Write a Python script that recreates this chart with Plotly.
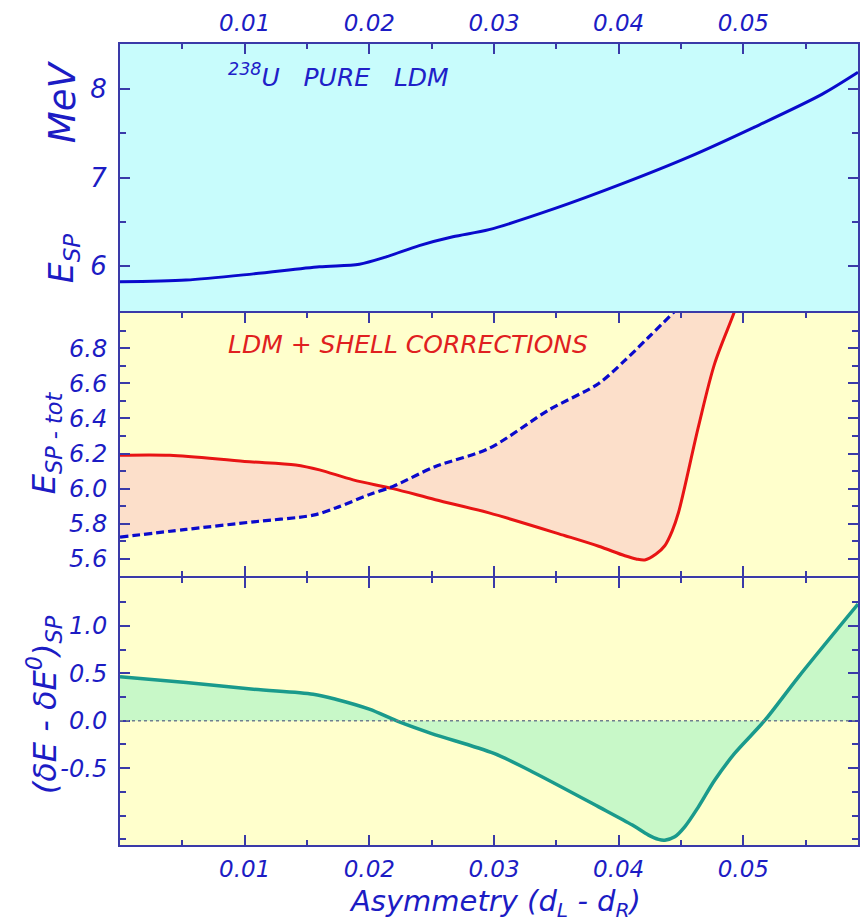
import plotly.graph_objects as go

# ---------------- data ----------------
# Panel 1: pure LDM saddle-point energy (MeV)
x_ldm = [0.0, 0.0053, 0.0107, 0.016, 0.0192, 0.0213, 0.024, 0.0267, 0.0296,
         0.0349, 0.0403, 0.0456, 0.0509, 0.0563, 0.0592]
e_ldm = [5.82, 5.84, 5.91, 5.99, 6.02, 6.10, 6.23, 6.33, 6.41,
         6.65, 6.93, 7.23, 7.57, 7.94, 8.19]

# Panel 2: LDM + shell corrections (red) and LDM reference (blue dashed)
x_tot = [0.0, 0.004, 0.01, 0.0141, 0.016, 0.0187, 0.0219, 0.0253, 0.0296,
         0.0357, 0.0384, 0.0405, 0.0414, 0.0421, 0.0430, 0.0437, 0.0443,
         0.0448, 0.0464, 0.0477, 0.0493, 0.0502]
e_tot = [6.19, 6.19, 6.155, 6.135, 6.107, 6.05, 6.0, 5.937, 5.862,
         5.732, 5.672, 5.618, 5.60, 5.594, 5.628, 5.675, 5.76,
         5.864, 6.353, 6.712, 7.01, 7.2]

x_ref = [0.0, 0.0053, 0.0107, 0.0155, 0.0173, 0.02, 0.0219, 0.0253, 0.0296,
         0.0344, 0.0384, 0.0405, 0.0424, 0.0445, 0.0460]
e_ref = [5.724, 5.768, 5.811, 5.849, 5.89, 5.966, 6.013, 6.126, 6.229,
         6.448, 6.599, 6.73, 6.862, 7.01, 7.12]

# Panel 3: shell-correction difference
x_sh = [0.0, 0.0053, 0.0107, 0.0155, 0.0173, 0.02, 0.0223, 0.025, 0.03,
        0.0331, 0.0384, 0.0411, 0.0424, 0.0432, 0.0437, 0.0445, 0.0453,
        0.0464, 0.0477, 0.0493, 0.0517, 0.0544, 0.0592]
d_sh = [0.463, 0.403, 0.333, 0.28, 0.227, 0.122, -0.007, -0.135, -0.345,
        -0.54, -0.908, -1.10, -1.206, -1.251, -1.259, -1.224, -1.119,
        -0.908, -0.628, -0.345, 0.0, 0.458, 1.23]

# ticks
x_tickvals = [0.01, 0.02, 0.03, 0.04, 0.05]
x_ticktext = ["0.01", "0.02", "0.03", "0.04", "0.05"]
x_minor = [0.005, 0.015, 0.025, 0.035, 0.045, 0.055]
y1_tickvals = [6, 7, 8]
y1_ticktext = ["6", "7", "8"]
y1_minor = [5.5, 6.5, 7.5, 8.5]
y2_tickvals = [5.6, 5.8, 6.0, 6.2, 6.4, 6.6, 6.8]
y2_ticktext = ["5.6", "5.8", "6.0", "6.2", "6.4", "6.6", "6.8"]
y2_minor = [5.5, 5.7, 5.9, 6.1, 6.3, 6.5, 6.7, 6.9]
y3_tickvals = [-0.5, 0.0, 0.5, 1.0]
y3_ticktext = ["-0.5", "0.0", "0.5", "1.0"]
y3_minor = [-1.25, -1.0, -0.75, -0.25, 0.25, 0.75, 1.25]

# ---------------- styling ----------------
AX = "#3a3aa8"
TXT = "#1c1cc4"
FONT = "DejaVu Sans"
XR = [0.0, 0.0592]

fig = go.Figure()

fig.add_trace(go.Scatter(x=x_ldm, y=e_ldm, mode="lines", xaxis="x", yaxis="y",
                         line=dict(color="#0a0acc", width=3, shape="spline", smoothing=0.8),
                         showlegend=False, hoverinfo="skip"))

# invisible base for the fill between the two curves
fig.add_trace(go.Scatter(x=x_ref, y=e_ref, mode="lines", xaxis="x2", yaxis="y2",
                         line=dict(color="rgba(0,0,0,0)", width=0, shape="spline", smoothing=0.8),
                         showlegend=False, hoverinfo="skip"))
fig.add_trace(go.Scatter(x=x_tot, y=e_tot, mode="lines", xaxis="x2", yaxis="y2",
                         fill="tonexty", fillcolor="#fcdfca",
                         line=dict(color="#e81414", width=3, shape="spline", smoothing=0.9),
                         showlegend=False, hoverinfo="skip"))
fig.add_trace(go.Scatter(x=x_ref, y=e_ref, mode="lines", xaxis="x2", yaxis="y2",
                         line=dict(color="#0a0acc", width=3.2, dash="8px,4px",
                                   shape="spline", smoothing=0.8),
                         showlegend=False, hoverinfo="skip"))

fig.add_trace(go.Scatter(x=x_sh, y=d_sh, mode="lines", xaxis="x3", yaxis="y3",
                         fill="tozeroy", fillcolor="#c8f8c8",
                         line=dict(color="#1a9a8c", width=3.5, shape="spline", smoothing=0.9),
                         showlegend=False, hoverinfo="skip"))

PH = 801.0
D1 = [0.6654 + 1 / PH, 1.0]
D2 = [0.334 + 1 / PH, 0.6654 - 1 / PH]
D3 = [0.0, 0.334 - 1 / PH]


def xax(anchor, side, labels, mirror):
    return dict(domain=[0, 1], anchor=anchor, side=side, range=XR,
                showline=True, linecolor=AX, linewidth=2, mirror=mirror,
                ticks="inside", ticklen=10, tickwidth=1.5, tickcolor=AX,
                tickvals=x_tickvals, ticktext=x_ticktext, showticklabels=labels,
                minor=dict(tickvals=x_minor, ticks="inside", ticklen=5,
                           tickwidth=1.5, tickcolor=AX),
                tickfont=dict(family=FONT, size=23, color=TXT, style="italic"),
                ticklabelstandoff=2,
                showgrid=False, zeroline=False, fixedrange=True)


def yax(anchor, dom, rng, tv, tt, mv, size):
    return dict(domain=dom, anchor=anchor, range=rng,
                showline=True, linecolor=AX, linewidth=2, mirror="ticks",
                ticks="inside", ticklen=10, tickwidth=1.5, tickcolor=AX,
                tickvals=tv, ticktext=tt,
                minor=dict(tickvals=mv, ticks="inside", ticklen=6,
                           tickwidth=1.5, tickcolor=AX),
                tickfont=dict(family=FONT, size=size, color=TXT, style="italic"),
                ticklabelstandoff=6,
                showgrid=False, zeroline=False, fixedrange=True)


fig.update_layout(
    width=861, height=923, autosize=False,
    margin=dict(l=120, r=1, t=44, b=78),
    paper_bgcolor="white", plot_bgcolor="white",
    xaxis=xax("y", "top", True, False),
    xaxis2=xax("y2", "bottom", False, "ticks"),
    xaxis3=xax("y3", "bottom", True, "ticks"),
    yaxis=yax("x", D1, [5.49, 8.51], y1_tickvals, y1_ticktext, y1_minor, 26),
    yaxis2=yax("x2", D2, [5.5, 7.0], y2_tickvals, y2_ticktext, y2_minor, 24),
    yaxis3=yax("x3", D3, [-1.31, 1.5], y3_tickvals, y3_ticktext, y3_minor, 24),
)

shapes = [
    dict(type="rect", xref="x domain", yref="y domain", x0=0, x1=1, y0=-0.01, y1=1,
         fillcolor="#c8fcfc", line=dict(width=0), layer="below"),
    dict(type="rect", xref="x2 domain", yref="y2 domain", x0=0, x1=1, y0=0, y1=1,
         fillcolor="#ffffcc", line=dict(width=0), layer="below"),
    dict(type="rect", xref="x3 domain", yref="y3 domain", x0=0, x1=1, y0=0, y1=1,
         fillcolor="#ffffcc", line=dict(width=0), layer="below"),
    dict(type="line", xref="x3 domain", yref="y3", x0=0, x1=1, y0=0, y1=0,
         line=dict(color="#6f7f8f", width=1.5, dash="dot"), layer="above"),
]
fig.update_layout(shapes=shapes)


def px_x(p):
    return (p - 120) / 740.0


def px_y(p):
    return (845 - p) / PH


nb = "\u00a0"
ann = [
    dict(text="<i><sup>238</sup>U" + nb * 3 + "PURE" + nb * 3 + "LDM</i>",
         x=px_x(226), y=px_y(76), xanchor="left", yanchor="middle",
         font=dict(family=FONT, size=25, color="#2020c8")),
    dict(text="<i>LDM + SHELL CORRECTIONS</i>",
         x=px_x(226), y=px_y(344), xanchor="left", yanchor="middle",
         font=dict(family=FONT, size=25, color="#e02020")),
    dict(text="<i>MeV</i>", textangle=-90,
         x=px_x(63), y=px_y(102), xanchor="center", yanchor="middle",
         font=dict(family=FONT, size=37, color=TXT)),
    dict(text="<i>E<sub>SP</sub></i>", textangle=-90,
         x=px_x(63), y=px_y(258), xanchor="center", yanchor="middle",
         font=dict(family=FONT, size=33, color=TXT)),
    dict(text="<i>E<sub>SP - tot</sub></i>", textangle=-90,
         x=px_x(46), y=px_y(443), xanchor="center", yanchor="middle",
         font=dict(family=FONT, size=32, color=TXT)),
    dict(text="<i>(δE - δE<sup>0</sup>)<sub>SP</sub></i>", textangle=-90,
         x=px_x(44), y=px_y(705), xanchor="center", yanchor="middle",
         font=dict(family=FONT, size=32, color=TXT)),
    dict(text="<i>Asymmetry (d<sub>L</sub> - d<sub>R</sub>)</i>",
         x=px_x(496), y=px_y(903), xanchor="center", yanchor="middle",
         font=dict(family=FONT, size=29, color=TXT)),
]
for a in ann:
    a.update(xref="paper", yref="paper", showarrow=False)
fig.update_layout(annotations=ann)

fig.write_html("out.html", config={"displayModeBar": False},
               post_script="document.body.style.margin='0';document.body.style.overflow='hidden';")
